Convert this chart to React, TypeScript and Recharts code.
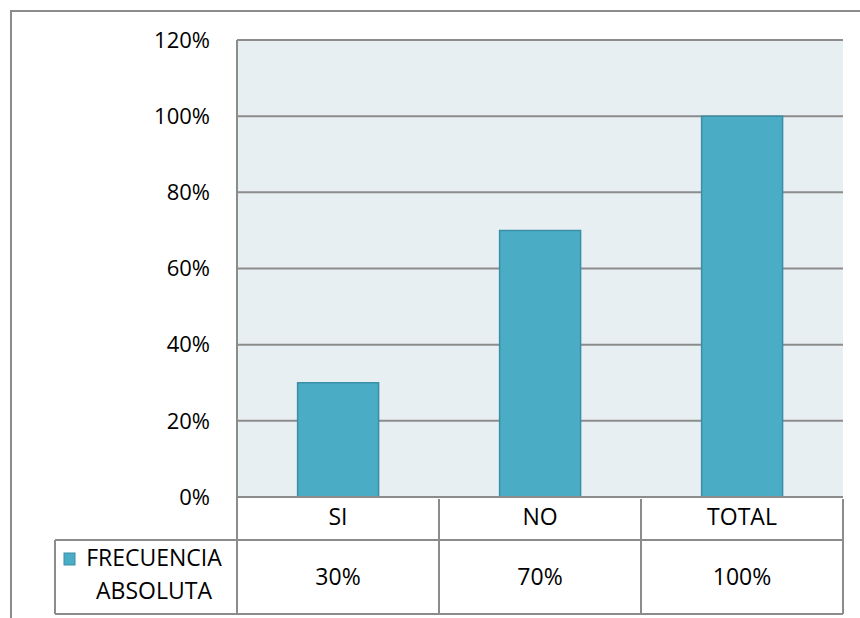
import { BarChart, Bar, XAxis, YAxis, CartesianGrid } from 'recharts';

const categories = ['SI', 'NO', 'TOTAL'];
const frecuencia = [0.3, 0.7, 1.0];
const yTicks = [0, 0.2, 0.4, 0.6, 0.8, 1.0, 1.2];
const seriesName = ['FRECUENCIA', 'ABSOLUTA'];

const data = categories.map((name, i) => ({ name, value: frecuencia[i] }));

const LINE = '#8c8c8c';
const FONT = '"Open Sans", sans-serif';
const pct = (v: number) => `${Math.round(v * 100)}%`;

function TableTick(props: any) {
    const { x, y, payload, index } = props;
    const half = payload?.offset ?? 101;
    const row1 = y + 41;
    const row2 = y + 115;
    const left = x - half;
    const right = x + half;
    return (
        <g>
            <text x={x} y={y + 26} textAnchor="middle" fontSize={23} fontFamily={FONT} fill="#000">
                {payload.value}
            </text>
            <text x={x} y={y + 86} textAnchor="middle" fontSize={23} fontFamily={FONT} fill="#000">
                {pct(frecuencia[index])}
            </text>
            <line x1={right} y1={y} x2={right} y2={row2} stroke={LINE} strokeWidth={2} />
            <line x1={left} y1={row1} x2={right} y2={row1} stroke={LINE} strokeWidth={2} />
            <line x1={left} y1={row2} x2={right} y2={row2} stroke={LINE} strokeWidth={2} />
            {index === 0 && (
                <g>
                    <line x1={left} y1={y - 2} x2={left} y2={row2} stroke={LINE} strokeWidth={2} />
                    <line x1={55} y1={row1} x2={left} y2={row1} stroke={LINE} strokeWidth={2} />
                    <line x1={55} y1={row2} x2={left} y2={row2} stroke={LINE} strokeWidth={2} />
                    <line x1={55} y1={row1} x2={55} y2={row2} stroke={LINE} strokeWidth={2} />
                    <rect x={64} y={553} width={11} height={12} fill="#4BACC6" stroke="#3a8ea6" strokeWidth={1} />
                    <text x={154} y={566} textAnchor="middle" fontSize={23} fontFamily={FONT} fill="#000">
                        {seriesName[0]}
                    </text>
                    <text x={154} y={599} textAnchor="middle" fontSize={23} fontFamily={FONT} fill="#000">
                        {seriesName[1]}
                    </text>
                </g>
            )}
        </g>
    );
}

export default function App() {
    return (
        <div style={{ position: 'absolute', left: 0, top: 0, width: 860, height: 618, overflow: 'hidden', background: '#fff' }}>
            <div
                style={{
                    position: 'absolute',
                    left: 10,
                    top: 10,
                    width: 850,
                    height: 608,
                    borderTop: '2px solid #8c8c8c',
                    borderLeft: '2px solid #8c8c8c',
                    boxSizing: 'border-box',
                }}
            />
            <div style={{ position: 'absolute', left: 0, top: 0 }}>
                <BarChart
                    width={860}
                    height={618}
                    data={data}
                    margin={{ top: 40, right: 17, left: 177, bottom: 6 }}
                    barCategoryGap="30%"
                >
                    <CartesianGrid vertical={false} fill="#E8EFF3" stroke={LINE} strokeWidth={2} />
                    <XAxis
                        dataKey="name"
                        height={115}
                        axisLine={{ stroke: LINE, strokeWidth: 2 }}
                        tickLine={false}
                        tickSize={0}
                        interval={0}
                        tick={<TableTick />}
                    />
                    <YAxis
                        width={60}
                        domain={[0, 1.2]}
                        ticks={yTicks}
                        tickFormatter={pct}
                        axisLine={{ stroke: LINE, strokeWidth: 2 }}
                        tickLine={false}
                        tickSize={0}
                        tickMargin={27}
                        tick={{ fill: '#000', fontSize: 22, fontFamily: FONT }}
                    />
                    <Bar dataKey="value" fill="#4BACC6" stroke="#3a8ea6" strokeWidth={1.5} isAnimationActive={false} />
                </BarChart>
            </div>
        </div>
    );
}
